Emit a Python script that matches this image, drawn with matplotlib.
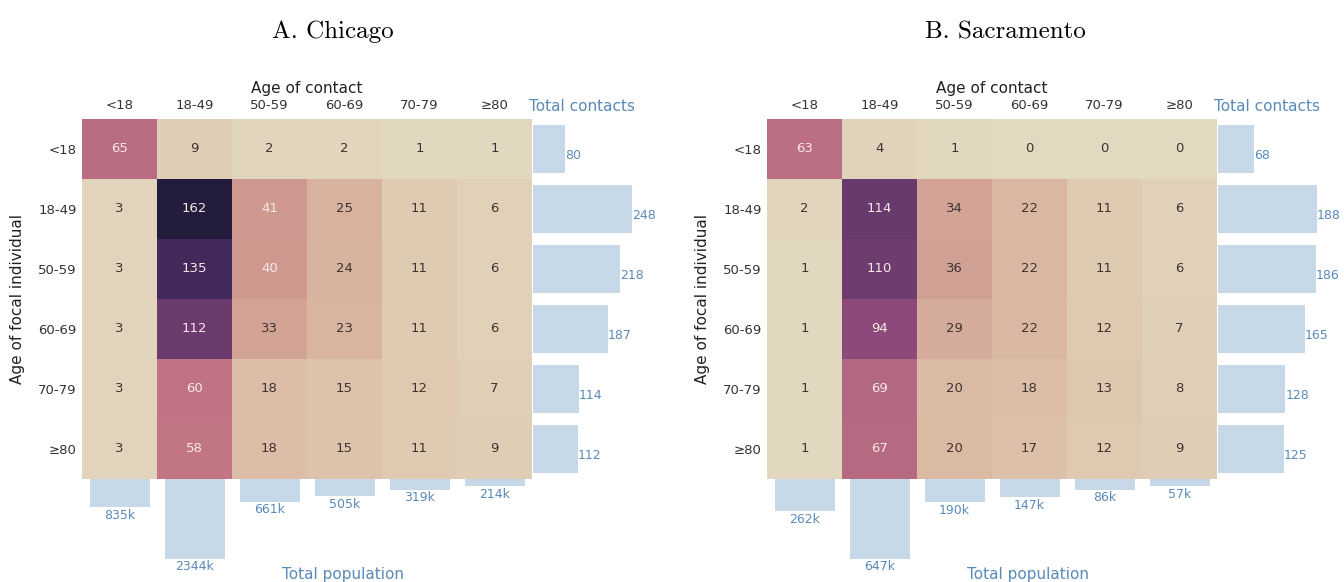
import numpy as np
import matplotlib
matplotlib.use("Agg")
import matplotlib.pyplot as plt
from matplotlib.colors import LinearSegmentedColormap, Normalize

# ---------------- data ----------------
age_groups = ["<18", "18-49", "50-59", "60-69", "70-79", "\u226580"]
panel_titles = ["A. Chicago", "B. Sacramento"]

chicago_contacts = [
    [65, 9, 2, 2, 1, 1],
    [3, 162, 41, 25, 11, 6],
    [3, 135, 40, 24, 11, 6],
    [3, 112, 33, 23, 11, 6],
    [3, 60, 18, 15, 12, 7],
    [3, 58, 18, 15, 11, 9],
]
chicago_totals = [80, 248, 218, 187, 114, 112]
chicago_population_k = [835, 2344, 661, 505, 319, 214]

sacramento_contacts = [
    [63, 4, 1, 0, 0, 0],
    [2, 114, 34, 22, 11, 6],
    [1, 110, 36, 22, 11, 6],
    [1, 94, 29, 22, 12, 7],
    [1, 69, 20, 18, 13, 8],
    [1, 67, 20, 17, 12, 9],
]
sacramento_totals = [68, 188, 186, 165, 128, 125]
sacramento_population_k = [262, 647, 190, 147, 86, 57]

# ---------------- style ----------------
W, H = 1344, 582
fig = plt.figure(figsize=(W / 100, H / 100), dpi=100)

cmap = LinearSegmentedColormap.from_list(
    "contact",
    [(0 / 162, "#e3d8c0"), (10 / 162, "#e0ccb4"), (20 / 162, "#dbbaa4"),
     (35 / 162, "#d2a195"), (41 / 162, "#cf9890"), (60 / 162, "#c17283"),
     (94 / 162, "#8e4a7a"), (113 / 162, "#6a3a6e"), (135 / 162, "#432a5c"),
     (1.0, "#241c3c")])
norm = Normalize(vmin=0, vmax=162)

bar_color = "#c7d9e8"
bar_text = "#5a8ab8"
tick_color = "#333333"


def px_axes(left, top, width, height):
    return fig.add_axes([left / W, 1 - (top + height) / H, width / W, height / H])


def draw_panel(dx, title_x, title, contacts, totals, population):
    mat = np.array(contacts)
    n = len(age_groups)
    hx, hy, hw, hh = 82 + dx, 119, 450, 360

    # heatmap
    ax = px_axes(hx, hy, hw, hh)
    ax.imshow(mat, cmap=cmap, norm=norm, aspect="auto",
              extent=(-0.5, n - 0.5, n - 0.5, -0.5), interpolation="nearest")
    ax.set_xlim(-0.5, n - 0.5)
    ax.set_ylim(n - 0.5, -0.5)
    ax.xaxis.tick_top()
    ax.xaxis.set_label_position("top")
    ax.set_xticks(range(n))
    ax.set_xticklabels(age_groups, fontsize=9.5, color=tick_color)
    ax.set_yticks(range(n))
    ax.set_yticklabels(age_groups, fontsize=9.5, color=tick_color)
    ax.tick_params(length=0, pad=4)
    ax.tick_params(axis="x", pad=5)
    ax.set_xlabel("Age of contact", fontsize=11, color="#222222", labelpad=4)
    ax.set_ylabel("Age of focal individual", fontsize=11, color="#222222", labelpad=9)
    for s in ax.spines.values():
        s.set_visible(False)
    for i in range(n):
        for j in range(n):
            v = mat[i, j]
            ax.text(j, i, str(v), ha="center", va="center", fontsize=9.5,
                    color="#f7e8e8" if v > 38 else "#3d3333")

    # total contacts bars (right)
    bw = 130
    axr = px_axes(hx + hw + 1, hy, bw, hh)
    tmax = max(totals)
    axr.barh(range(n), totals, height=0.8, color=bar_color)
    axr.set_xlim(0, tmax * bw / 99)
    axr.set_ylim(n - 0.5, -0.5)
    axr.axis("off")
    for i, v in enumerate(totals):
        axr.text(v, i + 0.11, str(v), ha="left", va="center", fontsize=9,
                 color=bar_text)
    axr.text(-4 / bw, 1 + 12 / hh, "Total contacts", transform=axr.transAxes,
             ha="left", va="center", fontsize=11, color=bar_text)

    # total population bars (bottom)
    bh = 103
    axb = px_axes(hx, hy + hh, hw, bh)
    pmax = max(population)
    axb.bar(range(n), population, width=0.8, color=bar_color)
    axb.set_xlim(-0.5, n - 0.5)
    axb.set_ylim(pmax * bh / 80, 0)
    axb.axis("off")
    for i, v in enumerate(population):
        axb.text(i, v + pmax * 1.5 / 80, f"{v}k", ha="center", va="top",
                 fontsize=9, color=bar_text)
    axb.text(2.17, 8 / bh, "Total population", transform=axb.get_xaxis_transform(),
             ha="left", va="center", fontsize=11, color=bar_text)

    # panel title
    fig.text(title_x / W, 1 - 32 / H, title, ha="center", va="center",
             fontsize=18, family="cmr10", color="black")


draw_panel(0, 333, panel_titles[0], chicago_contacts, chicago_totals,
           chicago_population_k)
draw_panel(685, 1005, panel_titles[1], sacramento_contacts, sacramento_totals,
           sacramento_population_k)

fig.savefig("out.png", dpi=100)
